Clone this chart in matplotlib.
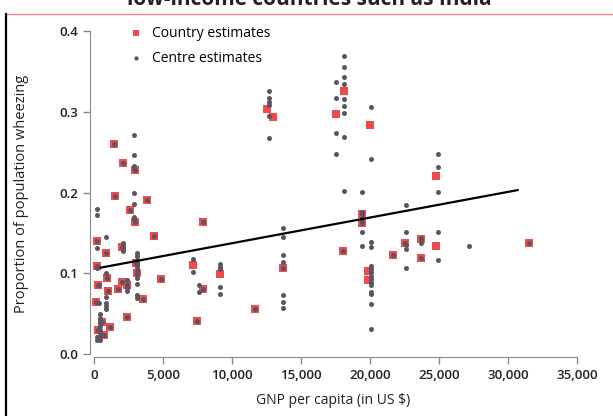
import matplotlib
matplotlib.use("Agg")
import matplotlib.pyplot as plt
from matplotlib.lines import Line2D

plt.rcParams['font.family'] = ['Open Sans', 'DejaVu Sans']

# Country estimates (red squares)
country_gnp = [240, 240, 130, 310, 870, 1040, 970, 1450, 1550, 2120, 2950, 3850,
               2580, 2970, 4330, 2060, 3050, 3090, 2000, 1720, 2400, 4860, 3570,
               2360, 560, 1160, 310, 720, 7200, 7440, 7870, 7920, 9130, 11670,
               12550, 13000, 13670, 17540, 18140, 18070, 19420, 19420, 19880,
               19880, 20000, 21690, 22540, 23670, 23670, 24780, 24780, 31520]
country_prop = [0.140, 0.109, 0.064, 0.086, 0.125, 0.078, 0.094, 0.260, 0.196,
                0.237, 0.228, 0.191, 0.178, 0.163, 0.146, 0.133, 0.113, 0.100,
                0.089, 0.081, 0.086, 0.093, 0.068, 0.046, 0.040, 0.033, 0.030,
                0.024, 0.110, 0.041, 0.080, 0.163, 0.099, 0.056, 0.304, 0.293,
                0.107, 0.297, 0.326, 0.128, 0.174, 0.162, 0.103, 0.092, 0.284,
                0.123, 0.138, 0.143, 0.119, 0.220, 0.134, 0.138]

# Centre estimates (grey dots)
centre_gnp = ([240] * 6 + [900] * 6 + [430] * 8 + [190] * 2 + [360] * 2 + [2080] * 3
              + [2400] * 3 + [2920] * 8 + [3090] * 11 + [7200] * 2 + [7630] * 2
              + [9130] * 5 + [12700] * 6 + [13700] * 7 + [17540] * 4 + [18140] * 9
              + [19420] * 6 + [20040] * 15 + [22610] * 5 + [23670] * 2 + [24900] * 5
              + [27200, 31520]
              + [1450, 1550, 2120, 2580, 3850, 4330, 4860, 3570, 2360, 560, 1160, 310,
                 720, 870, 1040, 970, 310, 130, 7870, 7920, 7440, 11670, 13670, 18070,
                 19420, 19420, 21690, 22540, 23670, 23670, 2000, 1720, 2400, 2970,
                 2060, 3050, 3090, 2950])
centre_prop = ([0.180, 0.172, 0.131, 0.140, 0.107, 0.109]
               + [0.145, 0.100, 0.071, 0.063, 0.059, 0.056]
               + [0.050, 0.045, 0.040, 0.035, 0.030, 0.026, 0.021, 0.017]
               + [0.021, 0.017]
               + [0.063, 0.086]
               + [0.137, 0.128, 0.133]
               + [0.092, 0.082, 0.078]
               + [0.271, 0.247, 0.233, 0.230, 0.199, 0.186, 0.170, 0.167]
               + [0.125, 0.121, 0.116, 0.112, 0.108, 0.103, 0.099, 0.094, 0.087, 0.073, 0.069]
               + [0.118, 0.102]
               + [0.085, 0.077]
               + [0.112, 0.108, 0.105, 0.083, 0.074]
               + [0.326, 0.317, 0.312, 0.308, 0.295, 0.267]
               + [0.156, 0.145, 0.122, 0.114, 0.073, 0.065, 0.057]
               + [0.337, 0.317, 0.274, 0.248]
               + [0.369, 0.356, 0.343, 0.334, 0.316, 0.307, 0.299, 0.269, 0.202]
               + [0.201, 0.176, 0.168, 0.164, 0.151, 0.134]
               + [0.306, 0.241, 0.139, 0.133, 0.109, 0.105, 0.101, 0.097, 0.093,
                  0.089, 0.085, 0.077, 0.074, 0.062, 0.031]
               + [0.185, 0.151, 0.135, 0.130, 0.106]
               + [0.144, 0.137]
               + [0.248, 0.231, 0.201, 0.151, 0.116]
               + [0.134, 0.138]
               + [0.260, 0.196, 0.237, 0.178, 0.191, 0.146, 0.093, 0.068, 0.046, 0.040,
                  0.033, 0.030, 0.024, 0.125, 0.078, 0.094, 0.086, 0.064, 0.080, 0.163,
                  0.041, 0.056, 0.107, 0.128, 0.174, 0.162, 0.123, 0.138, 0.143, 0.119,
                  0.089, 0.081, 0.086, 0.163, 0.133, 0.113, 0.100, 0.228])

# Fitted trend line end points
trend_gnp = [500, 30700]
trend_prop = [0.107, 0.203]

x_ticks = [0, 5000, 10000, 15000, 20000, 25000, 30000, 35000]
x_ticklabels = ['0', '5,000', '10,000', '15,000', '20,000', '25,000', '30,000', '35,000']
y_ticks = [0.0, 0.1, 0.2, 0.3, 0.4]
y_ticklabels = ['0.0', '0.1', '0.2', '0.3', '0.4']

W, H = 613, 416
fig = plt.figure(figsize=(W / 100, H / 100), dpi=100)
fig.patch.set_facecolor('white')

left, right, top, bottom = 90, 577, 31, 357
ax = fig.add_axes([left / W, 1 - bottom / H, (right - left) / W, (bottom - top) / H])
ax.set_xlim(-290, 35000)
ax.set_ylim(-0.0037, 0.4)

red = '#f04a4e'
grey = '#5a5560'
ax.scatter(country_gnp, country_prop, marker='s', s=34, color=red, linewidths=0,
           label='Country estimates', zorder=2)
ax.scatter(centre_gnp, centre_prop, marker='o', s=13, color=grey, linewidths=0,
           label='Centre estimates', zorder=3)
ax.plot(trend_gnp, trend_prop, color='black', lw=1.6, zorder=4)

for s in ['top', 'right']:
    ax.spines[s].set_visible(False)
spc = '#8a8a8a'
ax.spines['left'].set_bounds(0, 0.4)
ax.spines['bottom'].set_bounds(0, 35000)
ax.spines['left'].set_color(spc)
ax.spines['bottom'].set_color(spc)
ax.tick_params(colors=spc, length=5, width=1, labelcolor='#222222', labelsize=9.5)
ax.set_xticks(x_ticks)
ax.set_xticklabels(x_ticklabels, fontweight='semibold')
ax.set_yticks(y_ticks)
ax.set_yticklabels(y_ticklabels, fontweight='semibold')
ax.set_xlabel('GNP per capita (in US $)', fontsize=10, color='#222222', labelpad=8)
ax.set_ylabel('Proportion of population wheezing', fontsize=10.5, color='#222222',
              labelpad=22)

leg = ax.legend(loc='upper left', bbox_to_anchor=(0.045, 1.045), frameon=False,
                fontsize=10, handletextpad=0.2, labelspacing=0.7, borderpad=0.2,
                markerscale=0.85)

# Cropped title and page furniture
fig.text(0.505, 1 - 5 / H, 'low-income countries such as India', ha='center',
         va='baseline', fontsize=15, fontweight='bold', color='#222222')
fig.add_artist(Line2D([6 / W, 1], [1 - 14 / H, 1 - 14 / H], transform=fig.transFigure,
                      color='#f08a8a', lw=1))
fig.add_artist(Line2D([6 / W, 6 / W], [1 - 14 / H, 0], transform=fig.transFigure,
                      color='black', lw=1.6))

fig.savefig('out.png', dpi=100)
